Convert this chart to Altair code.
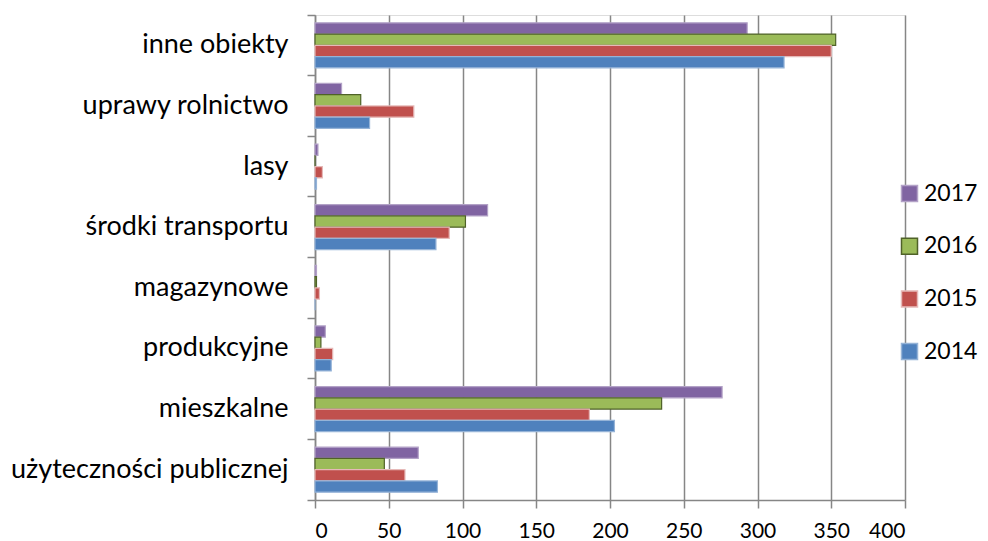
import altair as alt
import pandas as pd

categories = ["inne obiekty", "uprawy rolnictwo", "lasy", "środki transportu",
              "magazynowe", "produkcyjne", "mieszkalne", "użyteczności publicznej"]
years = ["2017", "2016", "2015", "2014"]
v2017 = [293, 18, 2, 117, 1, 7, 276, 70]
v2016 = [353, 31, 0, 102, 1, 4, 235, 47]
v2015 = [350, 67, 5, 91, 3, 12, 186, 61]
v2014 = [318, 37, 1, 82, 0, 11, 203, 83]
x_ticks = [0, 50, 100, 150, 200, 250, 300, 350, 400]

colors = ["#8064A2", "#9BBB59", "#C0504D", "#4F81BD"]
strokes = ["#B3A2C7", "#4F6228", "#E6B9B8", "#95B3D7"]

rows = []
for yr, vals in zip(years, [v2017, v2016, v2015, v2014]):
    for c, v in zip(categories, vals):
        rows.append({"kategoria": c, "rok": yr, "wartosc": v})
df = pd.DataFrame(rows)

FONT = "Lato"
GRID = "#868686"

chart = alt.Chart(df).mark_bar(strokeWidth=1.2).encode(
    x=alt.X("wartosc:Q",
            scale=alt.Scale(domain=[0, 400], nice=False),
            axis=alt.Axis(values=x_ticks, title=None, grid=True, gridColor=GRID,
                          gridWidth=1.5, domainColor=GRID, domainWidth=1.5,
                          tickColor=GRID, tickWidth=1.5, tickSize=8,
                          labelFont=FONT, labelFontSize=21, labelColor="#000000",
                          labelPadding=12)),
    y=alt.Y("kategoria:N", sort=categories,
            scale=alt.Scale(paddingInner=0, paddingOuter=0),
            axis=alt.Axis(title=None, domainColor=GRID, domainWidth=1.5,
                          tickColor=GRID, tickWidth=1.5, tickSize=8,
                          bandPosition=1, tickExtra=True,
                          labelFont=FONT, labelFontSize=27, labelColor="#000000",
                          labelPadding=19, labelLimit=400)),
    yOffset=alt.YOffset("rok:N", sort=years,
                        scale=alt.Scale(domain=years, paddingInner=0, paddingOuter=0.69)),
    fill=alt.Fill("rok:N", scale=alt.Scale(domain=years, range=colors),
                  legend=alt.Legend(title=None, orient="none", legendX=583, legendY=167,
                                    symbolType="square", symbolSize=256,
                                    labelFont=FONT, labelFontSize=23, labelColor="#000000",
                                    rowPadding=28.7, labelOffset=3, labelLimit=200)),
    stroke=alt.Stroke("rok:N", scale=alt.Scale(domain=years, range=strokes), legend=None),
).properties(
    width=590, height=485,
    autosize=alt.AutoSizeParams(type="none"),
    padding={"left": 307, "top": 7, "right": 75, "bottom": 41},
).configure_view(strokeWidth=0).configure(background="white")

chart.save("out.html", embed_options={"renderer": "svg", "actions": False})
